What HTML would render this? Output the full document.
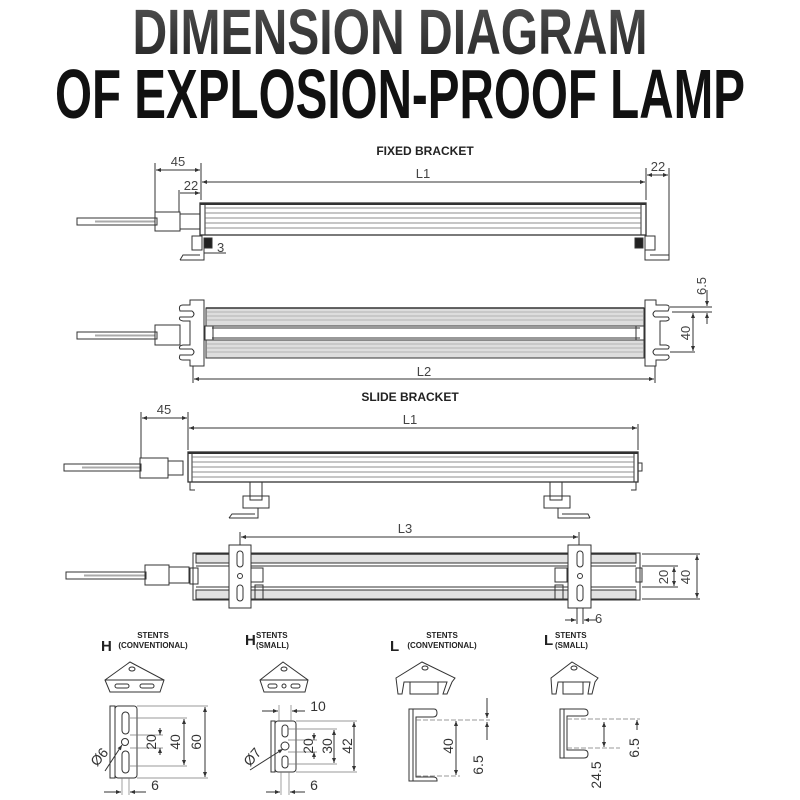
<!DOCTYPE html>
<html><head><meta charset="utf-8"><style>
html,body{margin:0;padding:0;background:#fff;width:800px;height:800px;overflow:hidden}
svg{display:block}
text{font-family:"Liberation Sans",sans-serif}
</style></head><body>
<svg width="800" height="800" viewBox="0 0 800 800" xmlns="http://www.w3.org/2000/svg">
<defs>
<marker id="a" viewBox="0 0 10 10" refX="10" refY="5" markerWidth="7" markerHeight="5" orient="auto-start-reverse"><path d="M0,1 L10,5 L0,9z" fill="#333"/></marker>
<linearGradient id="g1" x1="0" y1="0" x2="0" y2="1"><stop offset="0" stop-color="#555"/><stop offset="1" stop-color="#222"/></linearGradient>
</defs>
<text x="390" y="54" text-anchor="middle" font-size="64" font-weight="bold" fill="url(#g1)" textLength="515" lengthAdjust="spacingAndGlyphs">DIMENSION DIAGRAM</text>
<text x="400" y="118" text-anchor="middle" font-size="70" font-weight="bold" fill="#111" textLength="690" lengthAdjust="spacingAndGlyphs">OF EXPLOSION-PROOF LAMP</text>

<g fill="none" stroke="#333" stroke-width="1">
<rect x="77" y="218" width="80" height="7" fill="#fff"/>
<line x1="95" y1="221.5" x2="155" y2="221.5" stroke="#aaa" stroke-width="2"/>
<rect x="155" y="212" width="25" height="19"/>
<rect x="180" y="214" width="20" height="15"/>
<rect x="200" y="203" width="446" height="32" stroke-width="1.3"/>
<line x1="205" y1="203" x2="205" y2="235"/><line x1="641" y1="203" x2="641" y2="235"/>
<g stroke="#666" stroke-width="0.8">
<line x1="205" y1="208" x2="641" y2="208"/><line x1="205" y1="213" x2="641" y2="213"/><line x1="205" y1="218" x2="641" y2="218"/><line x1="205" y1="223" x2="641" y2="223"/><line x1="205" y1="228" x2="641" y2="228"/></g>
<line x1="200" y1="204" x2="646" y2="204" stroke-width="2"/>
<rect x="192" y="236" width="10" height="14"/><rect x="204" y="238" width="8" height="10" fill="#222"/>
<path d="M180,260 L204,260 L204,238 M180,260 L183,255 L200,255"/>
<rect x="645" y="236" width="10" height="14"/><rect x="635" y="238" width="8" height="10" fill="#222"/>
<path d="M645,238 L645,260 L669,260 L669,255 L650,255"/>
<line x1="155" y1="212" x2="155" y2="163"/><line x1="201" y1="200" x2="201" y2="163"/>
<line x1="156" y1="170" x2="200" y2="170" marker-start="url(#a)" marker-end="url(#a)"/>
<line x1="179" y1="212" x2="179" y2="190"/>
<line x1="180" y1="193" x2="200" y2="193" marker-end="url(#a)"/>
<line x1="202" y1="182" x2="645" y2="182" marker-start="url(#a)" marker-end="url(#a)"/>
<line x1="646" y1="200" x2="646" y2="168"/><line x1="669" y1="255" x2="669" y2="168"/>
<line x1="647" y1="175" x2="668" y2="175" marker-start="url(#a)" marker-end="url(#a)"/>
<line x1="204" y1="253" x2="226" y2="253"/>

<rect x="77" y="332" width="80" height="7" fill="#fff"/>
<line x1="95" y1="335.5" x2="155" y2="335.5" stroke="#aaa" stroke-width="2"/>
<rect x="155" y="325" width="25" height="20"/>
<path d="M190,300 L204,300 L204,366 L190,366 L190,360 L183,360 Q178,360 180,355 L192,355 Q196,352 192,349 L180,349 Q178,346 183,345 L190,345 L190,321 L183,321 Q178,320 180,317 L192,317 Q196,314 192,311 L180,311 Q178,305 183,305 L190,305 Z" fill="#fff"/>
<path d="M656,300 L645,300 L645,366 L656,366 L656,360 L666,360 Q671,358 668,355 L655,355 Q651,352 655,349 L668,349 Q671,346 666,345 L660,345 L660,321 L666,321 Q671,320 668,317 L655,317 Q651,314 655,311 L668,311 Q671,305 666,305 L656,305 Z" fill="#fff"/>
<rect x="206" y="308" width="438" height="18" fill="#ddd"/>
<rect x="206" y="340" width="438" height="18" fill="#ddd"/>
<g stroke="#888" stroke-width="0.6">
<line x1="206" y1="312" x2="644" y2="312"/><line x1="206" y1="316" x2="644" y2="316"/><line x1="206" y1="320" x2="644" y2="320"/><line x1="206" y1="344" x2="644" y2="344"/><line x1="206" y1="348" x2="644" y2="348"/><line x1="206" y1="352" x2="644" y2="352"/></g>
<line x1="206" y1="308" x2="644" y2="308" stroke-width="1.6"/>
<line x1="206" y1="358" x2="644" y2="358"/>
<line x1="212" y1="328" x2="640" y2="328"/><line x1="212" y1="338" x2="640" y2="338"/>
<rect x="205" y="326" width="8" height="14"/><rect x="636" y="326" width="8" height="14"/>
<line x1="193" y1="366" x2="193" y2="383"/><line x1="655" y1="366" x2="655" y2="383"/>
<line x1="194" y1="379" x2="654" y2="379" marker-start="url(#a)" marker-end="url(#a)"/>
<line x1="670" y1="307" x2="712" y2="307"/><line x1="672" y1="312" x2="712" y2="312"/>
<line x1="670" y1="352" x2="695" y2="352"/>
<line x1="707" y1="290" x2="707" y2="306" marker-end="url(#a)"/>
<line x1="707" y1="324" x2="707" y2="313" marker-end="url(#a)"/>
<line x1="693" y1="313" x2="693" y2="351" marker-start="url(#a)" marker-end="url(#a)"/>

<rect x="64" y="464" width="77" height="7" fill="#fff"/>
<line x1="82" y1="467.5" x2="140" y2="467.5" stroke="#aaa" stroke-width="2"/>
<rect x="140" y="458" width="28" height="20"/>
<rect x="168" y="461" width="15" height="14"/>
<rect x="188" y="452" width="450" height="30" stroke-width="1.3"/>
<line x1="192" y1="452" x2="192" y2="482"/><line x1="634" y1="452" x2="634" y2="482"/>
<g stroke="#666" stroke-width="0.8">
<line x1="192" y1="457" x2="634" y2="457"/><line x1="192" y1="462" x2="634" y2="462"/><line x1="192" y1="467" x2="634" y2="467"/><line x1="192" y1="472" x2="634" y2="472"/><line x1="192" y1="477" x2="634" y2="477"/></g>
<line x1="188" y1="453" x2="638" y2="453" stroke-width="2"/>
<path d="M190,482 L190,490 L195,490"/><path d="M636,482 L636,490 L631,490"/>
<rect x="638" y="463" width="4" height="8"/>
<rect x="250" y="482" width="12" height="18"/><rect x="243" y="496" width="26" height="12"/>
<path d="M229,518 L258,518 L258,508 M229,518 L232,514 L255,514"/>
<rect x="550" y="482" width="12" height="18"/><rect x="544" y="496" width="26" height="12"/>
<path d="M590,518 L558,518 L558,508 M590,518 L588,514 L562,514"/>
<line x1="141" y1="458" x2="141" y2="412"/><line x1="188" y1="450" x2="188" y2="412"/>
<line x1="142" y1="418" x2="187" y2="418" marker-start="url(#a)" marker-end="url(#a)"/>
<line x1="638" y1="450" x2="638" y2="424"/>
<line x1="189" y1="428" x2="637" y2="428" marker-start="url(#a)" marker-end="url(#a)"/>

<rect x="66" y="572" width="80" height="7" fill="#fff"/>
<line x1="84" y1="575.5" x2="145" y2="575.5" stroke="#aaa" stroke-width="2"/>
<rect x="145" y="565" width="24" height="20"/><rect x="169" y="567" width="20" height="16"/>
<rect x="193" y="553" width="447" height="47"/>
<rect x="196" y="554" width="440" height="9" fill="#e2e2e2"/>
<rect x="196" y="590" width="440" height="9" fill="#e2e2e2"/>
<line x1="196" y1="554" x2="636" y2="554" stroke-width="1.6"/>
<line x1="196" y1="566" x2="636" y2="566"/><line x1="196" y1="587" x2="636" y2="587"/>
<rect x="190" y="568" width="8" height="16"/><rect x="636" y="568" width="6" height="14"/>
<rect x="251" y="568" width="12" height="14"/><rect x="255" y="585" width="8" height="14"/>
<rect x="555" y="568" width="12" height="14"/><rect x="555" y="585" width="8" height="14"/>
<rect x="229" y="545" width="22" height="63" fill="#fff"/>
<rect x="237" y="551" width="6" height="16" rx="3"/><circle cx="240" cy="576" r="2.5"/><rect x="237" y="585" width="6" height="16" rx="3"/>
<rect x="568" y="545" width="23" height="63" fill="#fff"/>
<rect x="577" y="551" width="6" height="16" rx="3"/><circle cx="580" cy="576" r="2.5"/><rect x="577" y="585" width="6" height="16" rx="3"/>
<line x1="240" y1="545" x2="240" y2="532"/><line x1="579" y1="545" x2="579" y2="532"/>
<line x1="241" y1="537" x2="578" y2="537" marker-start="url(#a)" marker-end="url(#a)"/>
<line x1="642" y1="554" x2="700" y2="554"/><line x1="642" y1="599" x2="700" y2="599"/>
<line x1="642" y1="566" x2="678" y2="566"/><line x1="642" y1="587" x2="678" y2="587"/>
<line x1="674" y1="567" x2="674" y2="586" marker-start="url(#a)" marker-end="url(#a)"/>
<line x1="697" y1="555" x2="697" y2="598" marker-start="url(#a)" marker-end="url(#a)"/>
<line x1="577" y1="608" x2="577" y2="624"/><line x1="583" y1="608" x2="583" y2="624"/>
<line x1="565" y1="620" x2="576" y2="620" marker-end="url(#a)"/><line x1="596" y1="620" x2="584" y2="620" marker-end="url(#a)"/>

<path d="M105,680 L130,662 L164,680 L160,692 L110,692 Z" fill="#fff"/><path d="M105,680 L164,680"/>
<rect x="115" y="684" width="14" height="4" rx="2"/><rect x="140" y="684" width="14" height="4" rx="2"/><ellipse cx="132" cy="669" rx="3" ry="2"/>
<path d="M260,680 L283,662 L308,680 L305,692 L264,692 Z" fill="#fff"/><path d="M260,680 L308,680"/>
<rect x="268" y="684" width="9" height="4" rx="2"/><circle cx="284" cy="686" r="2"/><rect x="291" y="684" width="9" height="4" rx="2"/><ellipse cx="284" cy="669" rx="3" ry="2"/>
<path d="M396,678 L422,662 L455,678 L452,682 L447,694 L443,694 L447,682 L404,682 L402,694 L398,694 Z" fill="#fff"/>
<path d="M410,682 L410,694 L438,694 L438,682"/><ellipse cx="425" cy="668" rx="3" ry="2"/>
<path d="M551,678 L572,662 L598,678 L595,682 L592,694 L588,694 L590,682 L558,682 L556,694 L552,694 Z" fill="#fff"/>
<path d="M563,682 L563,694 L583,694 L583,682"/><ellipse cx="574" cy="668" rx="3" ry="2"/>

<rect x="110" y="706" width="5" height="72"/><rect x="115" y="706" width="22" height="72" rx="3"/>
<rect x="122" y="712" width="7" height="22" rx="3.5"/><circle cx="125" cy="742" r="3.5"/><rect x="122" y="751" width="7" height="22" rx="3.5"/>
<g stroke="#777" stroke-width="0.7"><line x1="137" y1="706" x2="208" y2="706"/><line x1="130" y1="718" x2="187" y2="718"/><line x1="130" y1="735" x2="163" y2="735"/><line x1="130" y1="748" x2="163" y2="748"/><line x1="130" y1="766" x2="187" y2="766"/><line x1="137" y1="778" x2="208" y2="778"/>
<line x1="122" y1="778" x2="122" y2="795"/><line x1="129" y1="778" x2="129" y2="795"/></g>
<line x1="160" y1="728" x2="160" y2="735" marker-end="url(#a)"/><line x1="160" y1="755" x2="160" y2="748" marker-end="url(#a)"/>
<line x1="184" y1="719" x2="184" y2="765" marker-start="url(#a)" marker-end="url(#a)"/>
<line x1="205" y1="707" x2="205" y2="777" marker-start="url(#a)" marker-end="url(#a)"/>
<line x1="105" y1="771" x2="122" y2="745" marker-end="url(#a)"/>
<line x1="104" y1="792" x2="121" y2="792" marker-end="url(#a)"/><line x1="146" y1="792" x2="130" y2="792" marker-end="url(#a)"/>

<rect x="271" y="721" width="4" height="51"/><rect x="275" y="721" width="21" height="51" rx="3"/>
<rect x="282" y="725" width="6" height="12" rx="3"/><circle cx="285" cy="746" r="4"/><rect x="282" y="756" width="6" height="12" rx="3"/>
<g stroke="#777" stroke-width="0.7"><line x1="296" y1="721" x2="357" y2="721"/><line x1="288" y1="729" x2="337" y2="729"/><line x1="288" y1="740" x2="317" y2="740"/><line x1="288" y1="752" x2="317" y2="752"/><line x1="288" y1="764" x2="337" y2="764"/><line x1="296" y1="772" x2="357" y2="772"/>
<line x1="279" y1="705" x2="279" y2="721"/><line x1="291" y1="705" x2="291" y2="721"/><line x1="281" y1="772" x2="281" y2="795"/><line x1="289" y1="772" x2="289" y2="795"/></g>
<line x1="262" y1="711" x2="278" y2="711" marker-end="url(#a)"/><line x1="305" y1="711" x2="292" y2="711" marker-end="url(#a)"/>
<line x1="314" y1="733" x2="314" y2="740" marker-end="url(#a)"/><line x1="314" y1="759" x2="314" y2="752" marker-end="url(#a)"/>
<line x1="334" y1="730" x2="334" y2="763" marker-start="url(#a)" marker-end="url(#a)"/>
<line x1="354" y1="722" x2="354" y2="771" marker-start="url(#a)" marker-end="url(#a)"/>
<line x1="250" y1="770" x2="283" y2="749" marker-end="url(#a)"/>
<line x1="266" y1="792" x2="280" y2="792" marker-end="url(#a)"/><line x1="305" y1="792" x2="290" y2="792" marker-end="url(#a)"/>

<path d="M409,709 L434,709 Q437,709 437,713 Q437,717 433,717 L416,717 L416,777 L433,777 Q437,777 437,780 L437,781 L409,781 Z" fill="#fff"/>
<line x1="413" y1="709" x2="413" y2="781"/>
<g stroke="#777" stroke-width="0.7" stroke-dasharray="5,2"><line x1="416" y1="720" x2="490" y2="720"/><line x1="416" y1="776" x2="460" y2="776"/></g>
<line x1="487" y1="698" x2="487" y2="718" marker-end="url(#a)"/><line x1="487" y1="740" x2="487" y2="722" marker-end="url(#a)"/>
<line x1="456" y1="721" x2="456" y2="775" marker-start="url(#a)" marker-end="url(#a)"/>

<path d="M560,709 L584,709 Q588,709 588,713 Q588,716 584,716 L567,716 L567,750 L584,750 Q588,750 588,754 Q588,758 584,758 L560,758 Z" fill="#fff"/>
<line x1="564" y1="709" x2="564" y2="758"/>
<g stroke="#777" stroke-width="0.7" stroke-dasharray="5,2"><line x1="567" y1="719" x2="640" y2="719"/><line x1="567" y1="748" x2="620" y2="748"/></g>
<line x1="604" y1="722" x2="604" y2="747" marker-start="url(#a)" marker-end="url(#a)"/>
<line x1="637" y1="730" x2="637" y2="720" marker-end="url(#a)"/>
</g>

<g fill="#222" font-weight="bold">
<text x="425" y="155" text-anchor="middle" font-size="12">FIXED BRACKET</text>
<text x="410" y="401" text-anchor="middle" font-size="12">SLIDE BRACKET</text>
</g>
<g fill="#444" font-size="13">
<text x="178" y="166" text-anchor="middle">45</text>
<text x="191" y="190" text-anchor="middle">22</text>
<text x="423" y="178" text-anchor="middle">L1</text>
<text x="658" y="171" text-anchor="middle">22</text>
<text x="217" y="252">3</text>
<text x="424" y="376" text-anchor="middle">L2</text>
<text transform="translate(706,286) rotate(-90)" text-anchor="middle">6.5</text>
<text transform="translate(690,333) rotate(-90)" text-anchor="middle">40</text>
<text x="164" y="414" text-anchor="middle">45</text>
<text x="410" y="424" text-anchor="middle">L1</text>
<text x="405" y="533" text-anchor="middle">L3</text>
<text transform="translate(668,577) rotate(-90)" text-anchor="middle">20</text>
<text transform="translate(690,577) rotate(-90)" text-anchor="middle">40</text>
<text x="595" y="623">6</text>
</g>
<g fill="#222" font-weight="bold">
<text x="101" y="651" font-size="15">H</text>
<text x="153" y="638" font-size="8" text-anchor="middle">STENTS</text>
<text x="153" y="648" font-size="8" text-anchor="middle">(CONVENTIONAL)</text>
<text x="245" y="645" font-size="15">H</text>
<text x="256" y="638" font-size="8">STENTS</text>
<text x="256" y="648" font-size="8">(SMALL)</text>
<text x="390" y="651" font-size="15">L</text>
<text x="442" y="638" font-size="8" text-anchor="middle">STENTS</text>
<text x="442" y="648" font-size="8" text-anchor="middle">(CONVENTIONAL)</text>
<text x="544" y="645" font-size="15">L</text>
<text x="555" y="638" font-size="8">STENTS</text>
<text x="555" y="648" font-size="8">(SMALL)</text>
</g>
<g fill="#333" font-size="14">
<text transform="translate(156,742) rotate(-90)" text-anchor="middle">20</text>
<text transform="translate(180,742) rotate(-90)" text-anchor="middle">40</text>
<text transform="translate(201,742) rotate(-90)" text-anchor="middle">60</text>
<text x="155" y="790" text-anchor="middle">6</text>
<text transform="translate(103,760) rotate(-50)" text-anchor="middle">Ø6</text>
<text x="318" y="711" text-anchor="middle">10</text>
<text transform="translate(313,746) rotate(-90)" text-anchor="middle">20</text>
<text transform="translate(332,746) rotate(-90)" text-anchor="middle">30</text>
<text transform="translate(352,746) rotate(-90)" text-anchor="middle">42</text>
<text x="314" y="790" text-anchor="middle">6</text>
<text transform="translate(256,760) rotate(-50)" text-anchor="middle">Ø7</text>
<text transform="translate(453,746) rotate(-90)" text-anchor="middle">40</text>
<text transform="translate(483,765) rotate(-90)" text-anchor="middle">6.5</text>
<text transform="translate(601,775) rotate(-90)" text-anchor="middle">24.5</text>
<text transform="translate(639,748) rotate(-90)" text-anchor="middle">6.5</text>
</g>
</svg>
</body></html>
